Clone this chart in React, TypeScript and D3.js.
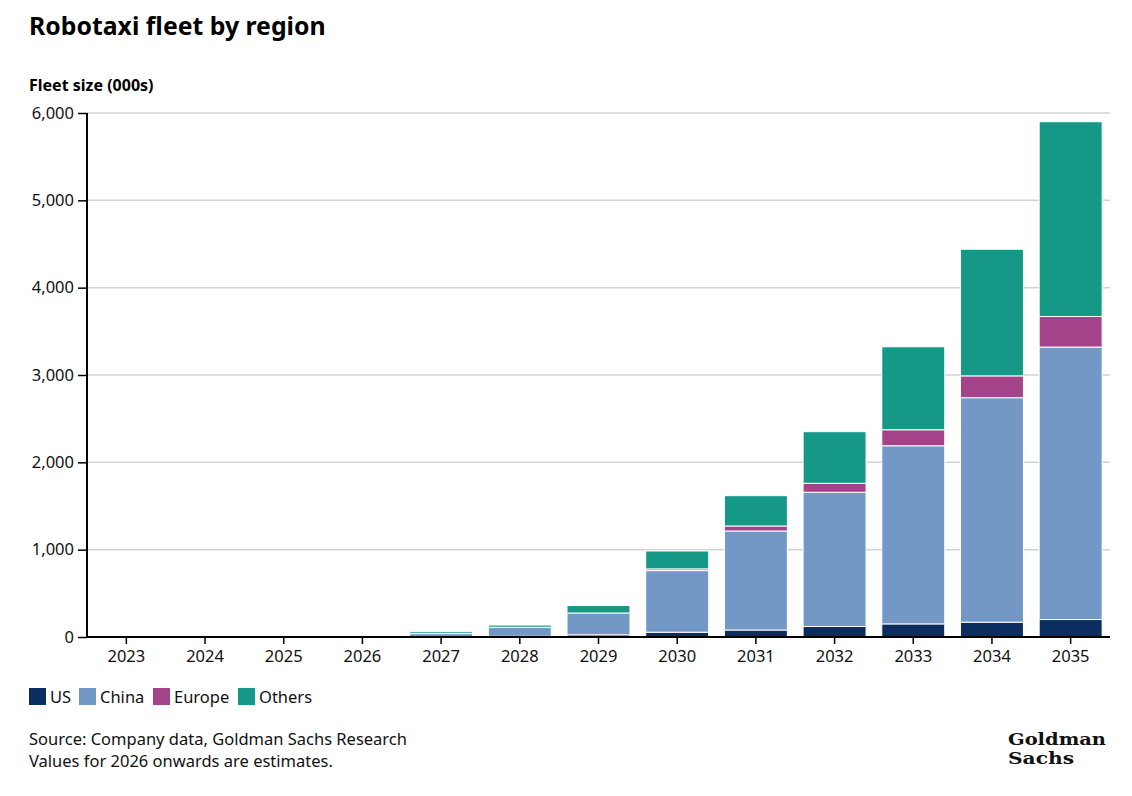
import React, { useEffect, useRef } from "react";
import * as d3 from "d3";

// fleet size in thousands
const years = ["2023", "2024", "2025", "2026", "2027", "2028", "2029", "2030", "2031", "2032", "2033", "2034", "2035"];
const us = [0.5, 0.8, 1, 2, 4, 8, 25, 55, 80, 120, 150, 170, 200];
const china = [0.2, 0.3, 0.5, 1.5, 34, 100, 245, 705, 1134, 1537, 2040, 2570, 3120];
const europe = [0, 0, 0.1, 0.3, 2, 4, 5, 20, 57, 103, 183, 250, 350];
const others = [0, 0, 0.2, 0.5, 20, 25, 85, 205, 347, 591, 950, 1450, 2230];

const seriesNames = ["US", "China", "Europe", "Others"];
const colors = ["#0b2d60", "#7398c5", "#a5438a", "#169886"];
const yTicks = [0, 1000, 2000, 3000, 4000, 5000, 6000];

export default function App() {
  const ref = useRef<SVGSVGElement | null>(null);

  useEffect(() => {
    if (!ref.current) return;
    const svg = d3.select(ref.current);
    svg.selectAll("*").remove();

    const font = "'Noto Sans', sans-serif";

    const rows = years.map((y, i) => ({
      year: y,
      US: us[i],
      China: china[i],
      Europe: europe[i],
      Others: others[i],
    }));

    const stack = d3.stack<any>().keys(seriesNames);
    const layers = stack(rows);

    const x = d3.scaleBand<string>().domain(years).range([87, 1110]).paddingInner(0.2).paddingOuter(0.1);
    const y = d3.scaleLinear([0, 6000], [637, 113]);
    const color = d3.scaleOrdinal<string, string>().domain(seriesNames).range(colors);

    // title
    svg.append("text")
      .attr("x", 29).attr("y", 35)
      .attr("font-family", font).attr("font-weight", 700).attr("font-size", 24.8)
      .attr("fill", "#000")
      .text("Robotaxi fleet by region");

    svg.append("text")
      .attr("x", 29).attr("y", 91)
      .attr("font-family", font).attr("font-weight", 700).attr("font-size", 16)
      .attr("fill", "#000")
      .text("Fleet size (000s)");

    // gridlines
    svg.append("g")
      .selectAll("line")
      .data(yTicks.filter((d) => d > 0))
      .enter()
      .append("line")
      .attr("x1", 87).attr("x2", 1110)
      .attr("y1", (d) => y(d)).attr("y2", (d) => y(d))
      .attr("stroke", "#d3d3d3").attr("stroke-width", 1.5);

    // bars
    svg.append("g")
      .selectAll("g")
      .data(layers)
      .enter()
      .append("g")
      .attr("fill", (d) => color(d.key))
      .selectAll("rect")
      .data((d) => d)
      .enter()
      .append("rect")
      .attr("x", (d: any) => x(d.data.year)!)
      .attr("width", x.bandwidth())
      .attr("y", (d) => y(d[1]))
      .attr("height", (d) => Math.max(0, y(d[0]) - y(d[1])))
      .attr("stroke", "#fff")
      .attr("stroke-width", (d) => (y(d[0]) - y(d[1]) > 0.5 ? 1 : 0));

    // y axis
    const yAxis = d3.axisLeft(y).tickValues(yTicks).tickSize(9).tickPadding(4).tickFormat(d3.format(","));
    const gy = svg.append("g").attr("transform", "translate(87,0)").call(yAxis);
    gy.select(".domain").attr("stroke", "#000").attr("stroke-width", 2).attr("d", "M0,113V637");
    gy.selectAll(".tick line").attr("stroke", "#000").attr("stroke-width", 1.5);
    gy.selectAll(".tick text").attr("font-family", font).attr("font-size", 16.5).attr("fill", "#111");

    // x axis
    const xAxis = d3.axisBottom(x).tickSize(7).tickPadding(6);
    const gx = svg.append("g").attr("transform", "translate(0,637)").call(xAxis);
    gx.select(".domain").attr("stroke", "#000").attr("stroke-width", 2).attr("d", "M87,0H1110");
    gx.selectAll(".tick line").attr("stroke", "#000").attr("stroke-width", 1.5);
    gx.selectAll(".tick text").attr("font-family", font).attr("font-size", 16.5).attr("fill", "#111");

    // legend
    const legendX = [29, 79, 153, 238];
    const lg = svg.append("g");
    seriesNames.forEach((name, i) => {
      lg.append("rect")
        .attr("x", legendX[i]).attr("y", 688)
        .attr("width", 17).attr("height", 17)
        .attr("fill", colors[i]);
      lg.append("text")
        .attr("x", legendX[i] + 21).attr("y", 703)
        .attr("font-family", font).attr("font-size", 16.5).attr("fill", "#111")
        .text(name);
    });

    // notes
    svg.append("text")
      .attr("x", 29).attr("y", 745)
      .attr("font-family", font).attr("font-size", 16.5).attr("fill", "#111")
      .text("Source: Company data, Goldman Sachs Research");
    svg.append("text")
      .attr("x", 29).attr("y", 767)
      .attr("font-family", font).attr("font-size", 16.5).attr("fill", "#111")
      .text("Values for 2026 onwards are estimates.");

    // logo
    const logo = svg.append("g")
      .attr("font-family", "'DejaVu Serif', serif").attr("font-weight", 700)
      .attr("font-size", 16).attr("fill", "#111");
    logo.append("text").attr("x", 1008).attr("y", 745)
      .attr("textLength", 98).attr("lengthAdjust", "spacingAndGlyphs").text("Goldman");
    logo.append("text").attr("x", 1008).attr("y", 764)
      .attr("textLength", 66).attr("lengthAdjust", "spacingAndGlyphs").text("Sachs");
  });

  return (
    <svg
      ref={ref}
      width={1132}
      height={796}
      style={{ position: "absolute", left: 0, top: 0, background: "#fff" }}
    />
  );
}
